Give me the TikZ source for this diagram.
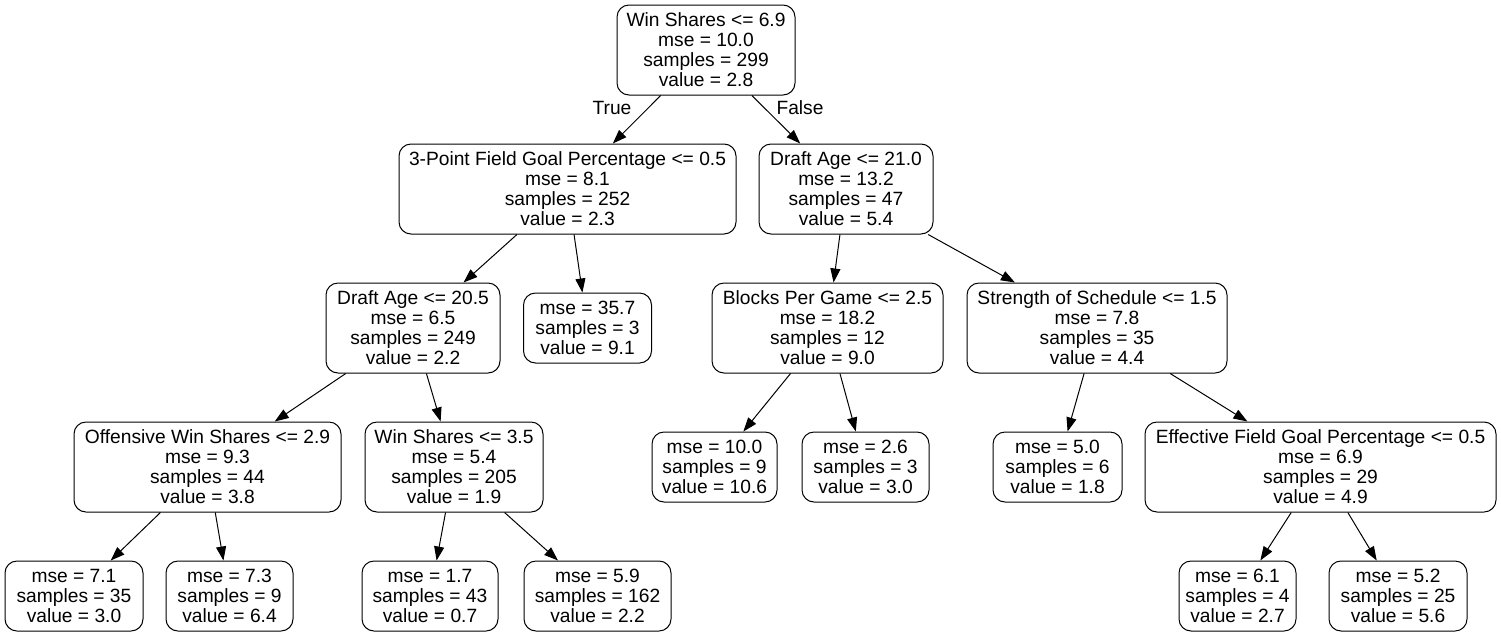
\documentclass[tikz,border=0pt]{standalone}
\usepackage{fontspec}
\setmainfont{Liberation Sans}
\usetikzlibrary{arrows.meta}
\begin{document}
\begin{tikzpicture}[x=0.75pt,y=-0.75pt,
  tnode/.style={draw,rounded corners=9pt,line width=0.75pt,align=center,inner sep=0pt,
    font=\fontsize{14.4pt}{15pt}\selectfont},
  inner4/.style={tnode,minimum height=67.5pt},
  leaf3/.style={tnode,minimum height=52.5pt},
  edge/.style={line width=0.75pt,-{Triangle[length=10.5pt,width=7.5pt]}},
  elab/.style={font=\fontsize{14.4pt}{15pt}\selectfont}]
\useasboundingbox[fill=white] (0,0) rectangle (1501,636);
\node[inner4,minimum width=133.5pt] (n1) at (706,50) {Win Shares <= 6.9\\mse = 10.0\\samples = 299\\value = 2.8};
\node[inner4,minimum width=252.75pt] (n2) at (567.5,189) {3-Point Field Goal Percentage <= 0.5\\mse = 8.1\\samples = 252\\value = 2.3};
\node[inner4,minimum width=130.5pt] (n3) at (846,189) {Draft Age <= 21.0\\mse = 13.2\\samples = 47\\value = 5.4};
\node[inner4,minimum width=130.5pt] (n4) at (413,328) {Draft Age <= 20.5\\mse = 6.5\\samples = 249\\value = 2.2};
\node[leaf3,minimum width=96pt] (n5) at (587.5,328) {mse = 35.7\\samples = 3\\value = 9.1};
\node[inner4,minimum width=173.25pt] (n6) at (827.5,328) {Blocks Per Game <= 2.5\\mse = 18.2\\samples = 12\\value = 9.0};
\node[inner4,minimum width=195pt] (n7) at (1097,328) {Strength of Schedule <= 1.5\\mse = 7.8\\samples = 35\\value = 4.4};
\node[inner4,minimum width=200.25pt] (n8) at (207.5,467) {Offensive Win Shares <= 2.9\\mse = 9.3\\samples = 44\\value = 3.8};
\node[inner4,minimum width=133.5pt] (n9) at (454,467) {Win Shares <= 3.5\\mse = 5.4\\samples = 205\\value = 1.9};
\node[leaf3,minimum width=93.75pt] (n10) at (714.5,467) {mse = 10.0\\samples = 9\\value = 10.6};
\node[leaf3,minimum width=95.25pt] (n11) at (865.5,467) {mse = 2.6\\samples = 3\\value = 3.0};
\node[leaf3,minimum width=96.75pt] (n12) at (1057.5,467) {mse = 5.0\\samples = 6\\value = 1.8};
\node[inner4,minimum width=263.25pt] (n13) at (1320.5,467) {Effective Field Goal Percentage <= 0.5\\mse = 6.9\\samples = 29\\value = 4.9};
\node[leaf3,minimum width=103.5pt] (n14) at (74,596) {mse = 7.1\\samples = 35\\value = 3.0};
\node[leaf3,minimum width=95.25pt] (n15) at (229.5,596) {mse = 7.3\\samples = 9\\value = 6.4};
\node[leaf3,minimum width=102pt] (n16) at (430,596) {mse = 1.7\\samples = 43\\value = 0.7};
\node[leaf3,minimum width=110.25pt] (n17) at (597.5,596) {mse = 5.9\\samples = 162\\value = 2.2};
\node[leaf3,minimum width=87.75pt] (n18) at (1237.5,596) {mse = 6.1\\samples = 4\\value = 2.7};
\node[leaf3,minimum width=103.5pt] (n19) at (1398,596) {mse = 5.2\\samples = 25\\value = 5.6};
\draw[edge] (n1) -- (n2);
\draw[edge] (n1) -- (n3);
\draw[edge] (n2) -- (n4);
\draw[edge] (n2) -- (n5);
\draw[edge] (n3) -- (n6);
\draw[edge] (n3) -- (n7);
\draw[edge] (n4) -- (n8);
\draw[edge] (n4) -- (n9);
\draw[edge] (n6) -- (n10);
\draw[edge] (n6) -- (n11);
\draw[edge] (n7) -- (n12);
\draw[edge] (n7) -- (n13);
\draw[edge] (n8) -- (n14);
\draw[edge] (n8) -- (n15);
\draw[edge] (n9) -- (n16);
\draw[edge] (n9) -- (n17);
\draw[edge] (n13) -- (n18);
\draw[edge] (n13) -- (n19);
\node[elab] (ltrue) at (612,108) {True};
\node[elab] (lfalse) at (800,108) {False};
\end{tikzpicture}
\end{document}
